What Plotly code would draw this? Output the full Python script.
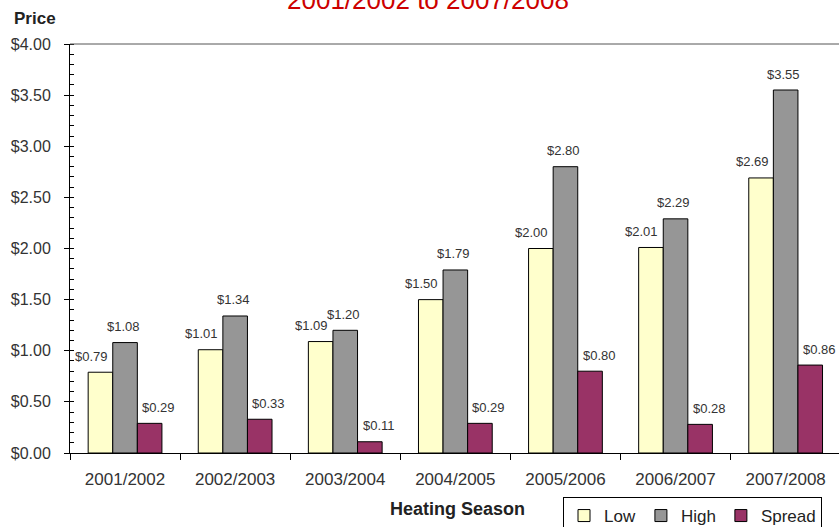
import plotly.graph_objects as go

seasons = ["2001/2002", "2002/2003", "2003/2004", "2004/2005", "2005/2006", "2006/2007", "2007/2008"]
low = [0.79, 1.01, 1.09, 1.50, 2.00, 2.01, 2.69]
high = [1.08, 1.34, 1.20, 1.79, 2.80, 2.29, 3.55]
spread = [0.29, 0.33, 0.11, 0.29, 0.80, 0.28, 0.86]
y_ticks = [0, 0.5, 1.0, 1.5, 2.0, 2.5, 3.0, 3.5, 4.0]
y_tick_labels = ["$%.2f" % v for v in y_ticks]

FONT = "Liberation Sans, Arial, sans-serif"
W, H = 839, 527
L, R, T, B = 70, 0, 44, 74
pw, ph = W - L - R, H - T - B
CAT_PX = 110.1
BARGAP = 0.33
BAR_PX = CAT_PX * (1 - BARGAP) / 3

def px_x(p):
    return (p - L) / pw

def px_y(p):
    return (H - B - p) / ph

series = [
    ("Low", low, "#FFFFCC", -BAR_PX - 9),
    ("High", high, "#969696", -2),
    ("Spread", spread, "#993366", BAR_PX + 9),
]

fig = go.Figure()
annotations = []
for name, vals, col, shift in series:
    fig.add_trace(go.Bar(
        name=name, x=seasons, y=vals,
        marker=dict(color=col, line=dict(color="#000000", width=1)),
    ))
    for s, v in zip(seasons, vals):
        annotations.append(dict(
            x=s, y=v, xref="x", yref="y", text="$%.2f" % v, showarrow=False,
            xanchor="center", yanchor="middle", xshift=shift, yshift=16,
            font=dict(family=FONT, size=13, color="#333333"),
        ))

annotations += [
    dict(text="<b>Price</b>", xref="paper", yref="paper", x=px_x(12), y=px_y(18),
         xanchor="left", yanchor="middle", showarrow=False,
         font=dict(family=FONT, size=17, color="#222222")),
    dict(text="<b>Heating Season</b>", xref="paper", yref="paper", x=px_x(457), y=px_y(509),
         xanchor="center", yanchor="middle", showarrow=False,
         font=dict(family=FONT, size=18, color="#222222")),
    dict(text="2001/2002 to 2007/2008", xref="paper", yref="paper", x=px_x(428), y=px_y(17),
         xanchor="center", yanchor="bottom", showarrow=False,
         font=dict(family=FONT, size=26, color="#CC0000")),
]

fig.update_layout(
    width=W, height=H,
    margin=dict(l=L, r=R, t=T, b=B, autoexpand=False),
    paper_bgcolor="white", plot_bgcolor="white",
    barmode="group", bargap=BARGAP, bargroupgap=0,
    font=dict(family=FONT, color="#333333"),
    showlegend=True,
    legend=dict(
        orientation="h", x=px_x(563), y=px_y(497), xanchor="left", yanchor="top",
        bordercolor="#000000", borderwidth=1, bgcolor="white",
        font=dict(family=FONT, size=17, color="#222222"),
    ),
    xaxis=dict(
        type="category", range=[-0.5, -0.5 + pw / CAT_PX],
        showline=True, linecolor="#000000", linewidth=1,
        ticks="outside", tickson="boundaries", ticklen=6, tickcolor="#000000",
        tickfont=dict(family=FONT, size=17, color="#333333"),
        ticklabelstandoff=11,
        showgrid=False, zeroline=False,
    ),
    yaxis=dict(
        range=[0, 4], tickvals=y_ticks, ticktext=y_tick_labels,
        showline=True, linecolor="#000000", linewidth=1,
        ticks="outside", ticklen=5, tickcolor="#000000",
        minor=dict(ticks="inside", dtick=0.1, ticklen=4, tickcolor="#000000", showgrid=False),
        tickfont=dict(family=FONT, size=16, color="#333333"),
        ticklabelstandoff=10,
        showgrid=False, zeroline=False,
    ),
    shapes=[dict(type="line", xref="paper", yref="paper", x0=0, x1=1, y0=1, y1=1,
                 line=dict(color="#555555", width=1))],
    annotations=annotations,
)

fig.write_html("out.html")
